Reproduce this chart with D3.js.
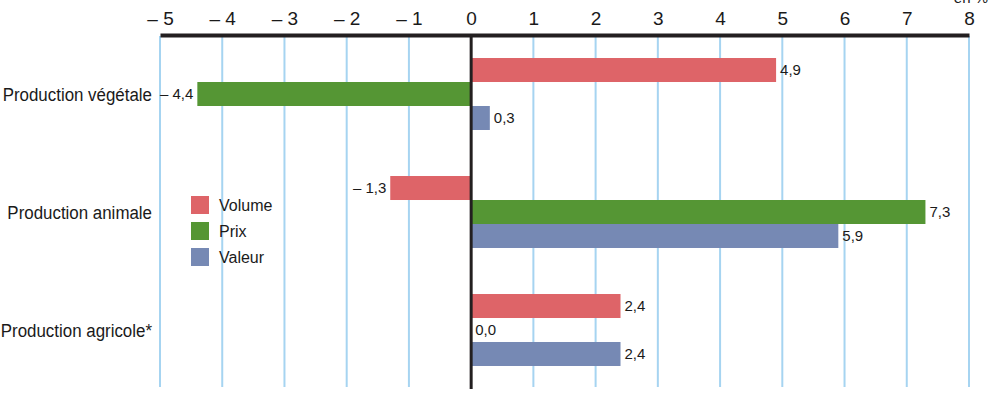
<!DOCTYPE html>
<html>
<head>
<meta charset="utf-8">
<script src="https://cdn.jsdelivr.net/npm/d3@7"></script>
<style>
  body { margin: 0; background: #fff; }
  svg text { font-family: "Liberation Sans Narrow", "Liberation Sans", Arial, sans-serif; fill: #1a1a1a; }
</style>
</head>
<body>
<div id="chart-area"></div>
<script>
// data
var categories = ["Production végétale", "Production animale", "Production agricole*"];
var series = ["Volume", "Prix", "Valeur"];
var volume = [4.9, -1.3, 2.4];
var prix = [-4.4, 7.3, 0.0];
var valeur = [0.3, 5.9, 2.4];
var xTicks = [-5, -4, -3, -2, -1, 0, 1, 2, 3, 4, 5, 6, 7, 8];
var unitLabel = "en %";

var colors = { "Volume": "#de6468", "Prix": "#559634", "Valeur": "#7689b4" };

var width = 992, height = 394;

var svg = d3.select("#chart-area")
    .append("svg")
        .attr("width", width)
        .attr("height", height);

var values = { "Volume": volume, "Prix": prix, "Valeur": valeur };

var data = categories.map(function(c, i) {
    return {
        cat: c,
        bars: series.map(function(s) { return { key: s, value: values[s][i] }; })
    };
});

// scales
var x = d3.scaleLinear()
    .domain([-5, 8])
    .range([160, 969]);

var y = d3.scaleBand()
    .domain(categories)
    .range([35, 389])
    .paddingInner(0.39)
    .paddingOuter(0.195);

var y1 = d3.scaleBand()
    .domain(series)
    .range([0, y.bandwidth()])
    .padding(0);

function fmt(v) {
    var s = Math.abs(v).toFixed(1).replace(".", ",");
    return v < 0 ? "\u2013 " + s : s;
}

// gridlines
svg.append("g")
    .selectAll("line")
    .data(xTicks.filter(function(d) { return d !== 0; }))
    .enter().append("line")
        .attr("x1", function(d) { return x(d); })
        .attr("x2", function(d) { return x(d); })
        .attr("y1", 36)
        .attr("y2", 387)
        .attr("stroke", "#a6d4f1")
        .attr("stroke-width", 2);

// bars
var group = svg.selectAll("g.bubble")
    .data(data)
    .enter().append("g")
        .attr("class", "bubble")
        .attr("transform", function(d) { return "translate(0," + y(d.cat) + ")"; });

group.selectAll("rect")
    .data(function(d) { return d.bars; })
    .enter().append("rect")
        .attr("x", function(d) { return x(Math.min(0, d.value)); })
        .attr("y", function(d) { return y1(d.key); })
        .attr("width", function(d) { return Math.abs(x(d.value) - x(0)); })
        .attr("height", y1.bandwidth())
        .attr("fill", function(d) { return colors[d.key]; });

group.selectAll("text")
    .data(function(d) { return d.bars; })
    .enter().append("text")
        .attr("x", function(d) { return d.value < 0 ? x(d.value) - 4 : x(d.value) + 4; })
        .attr("y", function(d) { return y1(d.key) + y1.bandwidth() / 2; })
        .attr("dy", "0.35em")
        .attr("font-size", "15px")
        .attr("text-anchor", function(d) { return d.value < 0 ? "end" : "start"; })
        .text(function(d) { return fmt(d.value); });

// zero line
svg.append("line")
    .attr("x1", x(0))
    .attr("x2", x(0))
    .attr("y1", 35)
    .attr("y2", 389)
    .attr("stroke", "#231f20")
    .attr("stroke-width", 3);

// top axis
var xAxisCall = d3.axisTop(x)
    .tickValues(xTicks)
    .tickSize(0)
    .tickPadding(10)
    .tickFormat(function(d) { return d < 0 ? "\u2013 " + Math.abs(d) : d; });

var xAxis = svg.append("g")
    .attr("class", "x axis")
    .attr("transform", "translate(0,35)")
    .call(xAxisCall);

xAxis.select(".domain")
    .attr("stroke", "#231f20")
    .attr("stroke-width", 4);

xAxis.selectAll("text")
    .attr("font-size", "19px")
    .attr("font-family", null)
    .attr("fill", "#1a1a1a");

svg.append("text")
    .attr("x", 988)
    .attr("y", 3)
    .attr("text-anchor", "end")
    .attr("font-size", "15px")
    .text(unitLabel);

// category labels (condensed horizontally like the original narrow face)
svg.selectAll(".cat")
    .data(categories)
    .enter().append("text")
        .attr("class", "cat")
        .attr("transform", function(d) {
            return "translate(152," + (y(d) + y.bandwidth() / 2) + ") scale(0.89,1)";
        })
        .attr("dy", "0.35em")
        .attr("font-size", "19px")
        .attr("text-anchor", "end")
        .text(function(d) { return d; });

// legend
var legend = svg.append("g")
    .attr("transform", "translate(191,196)");

series.forEach(function(s, i) {
    var legendRow = legend.append("g")
        .attr("transform", "translate(0, " + (i * 26) + ")");

    legendRow.append("rect")
        .attr("width", 18)
        .attr("height", 18)
        .attr("fill", colors[s]);

    legendRow.append("text")
        .attr("x", 28)
        .attr("y", 9)
        .attr("dy", "0.35em")
        .attr("font-size", "16px")
        .text(s);
});
</script>
</body>
</html>
